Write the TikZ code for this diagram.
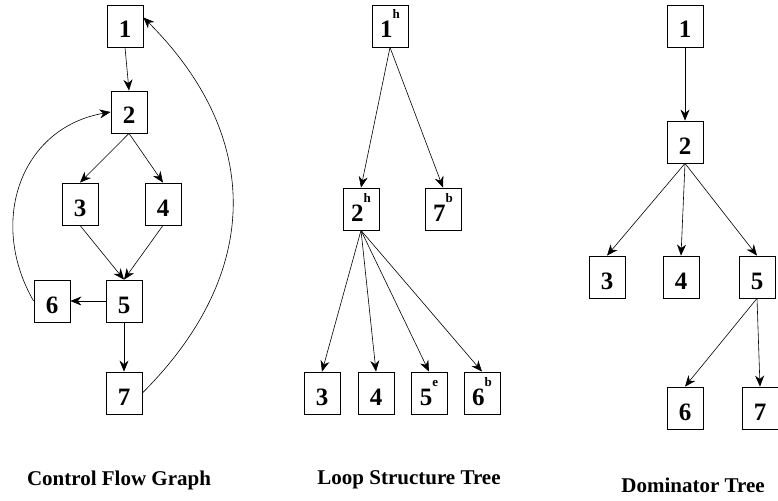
\documentclass[tikz,border=0pt]{standalone}
\usepackage{fontspec}
\setmainfont{Liberation Serif}
\usetikzlibrary{arrows.meta}
\def\supmark#1{\raisebox{19pt}{\fontsize{13}{13}\selectfont #1}}

\begin{document}
\begin{tikzpicture}[x=1pt, y=1pt,
	blk/.style={draw, line width=0.8pt, minimum width=36pt, minimum height=42pt, inner sep=0pt,
		text height=24pt, text depth=0pt, font=\fontsize{25}{25}\selectfont\bfseries},
	arr/.style={line width=0.6pt, -{Stealth[length=11pt, width=9pt, inset=3.5pt]}},
	ttl/.style={font=\fontsize{21}{21}\selectfont\bfseries}]
		%%%%% START %%%%%
		\useasboundingbox (0, 0) rectangle (778, -500);
		
		% control flow graph
		\node[blk] (c1) at (125, -26) {1};
		\node[blk] (c2) at (129, -112) {2};
		\node[blk] (c3) at (80, -204) {3};
		\node[blk] (c4) at (163, -204) {4};
		\node[blk] (c5) at (124, -301) {5};
		\node[blk] (c6) at (52, -301) {6};
		\node[blk] (c7) at (124, -393) {7};
		
		\draw[arr] (c1.south) -- (c2.north);
		\draw[arr] (c2.south) -- (c3.north);
		\draw[arr] (c2.south) -- (c4.north);
		\draw[arr] (c3.south) -- (c5.north);
		\draw[arr] (c4.south) -- (c5.north);
		\draw[arr] (c5.west) -- (c6.east);
		\draw[arr] (c5.south) -- (c7.north);
		\draw[arr] (c6.west) to[out=120, in=190, looseness=1.15] (c2.west);
		\draw[arr] (c7.east) to[out=45, in=-45, looseness=1.15] (c1.25);
		
		\node[ttl] (tcfg) at (119, -480) {Control Flow Graph};
		
		% loop structure tree
		\node[blk] (l1) at (390, -26) {1\supmark{h}};
		\node[blk] (l2) at (361, -209) {2\supmark{h}};
		\node[blk] (l7) at (443, -209) {7\supmark{b}};
		\node[blk] (l3) at (322, -393) {3};
		\node[blk] (l4) at (376, -393) {4};
		\node[blk] (l5) at (429, -393) {5\supmark{e}};
		\node[blk] (l6) at (482, -393) {6\supmark{b}};
		
		\draw[arr] (l1.south) -- (l2.north);
		\draw[arr] (l1.south) -- (l7.north);
		\draw[arr] (l2.south) -- (l3.north);
		\draw[arr] (l2.south) -- (l4.north);
		\draw[arr] (l2.south) -- (l5.north);
		\draw[arr] (l2.south) -- (l6.north);
		
		\node[ttl] (tlst) at (409, -480) {Loop Structure Tree};
		
		% dominator tree
		\node[blk] (d1) at (685, -26) {1};
		\node[blk] (d2) at (685, -142) {2};
		\node[blk] (d3) at (607, -277) {3};
		\node[blk] (d4) at (681, -277) {4};
		\node[blk] (d5) at (757, -277) {5};
		\node[blk] (d6) at (685, -408) {6};
		\node[blk] (d7) at (760, -408) {7};
		
		\draw[arr] (d1.south) -- (d2.north);
		\draw[arr] (d2.south) -- (d3.north);
		\draw[arr] (d2.south) -- (d4.north);
		\draw[arr] (d2.south) -- (d5.north);
		\draw[arr] (d5.south) -- (d6.north);
		\draw[arr] (d5.south) -- (d7.north);
		
		\node[ttl] (tdom) at (693, -485) {Dominator Tree};
		%%%%% END %%%%%
	\end{tikzpicture}
\end{document}
